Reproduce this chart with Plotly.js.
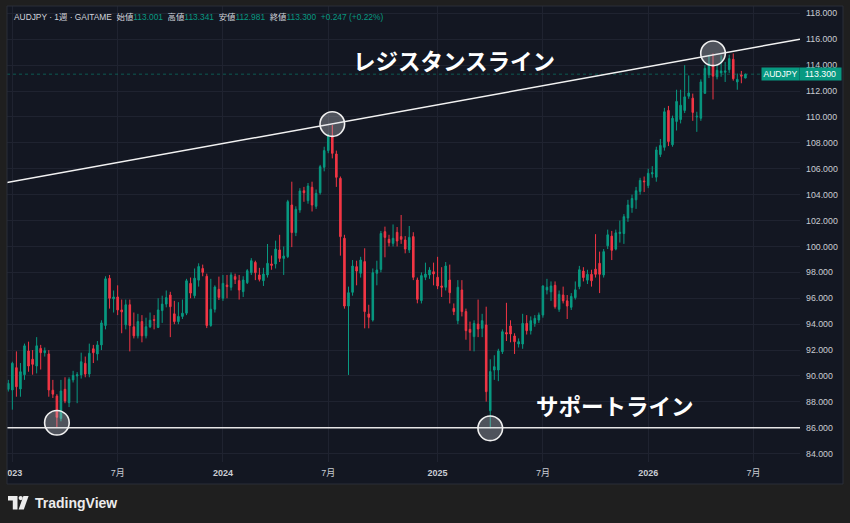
<!DOCTYPE html>
<html>
<head>
<meta charset="utf-8">
<script src="https://cdn.plot.ly/plotly-3.0.1.min.js"></script>
<style>
html,body{margin:0;padding:0;background:#1f1f1f;}
#chart{width:850px;height:523px;}
</style>
</head>
<body>
<div id="chart"></div>
<script>
// ---- data (weekly AUDJPY, GAITAME) ----
const firstWeek = '2022-12-26';
const weekCount = 183;
const open = [
88.97,88.92,90.64,89.0,90.1,91.93,91.29,90.77,92.13,91.8,
91.7,88.9,88.45,86.73,88.97,87.94,89.7,90.0,90.08,90.98,
90.15,92.1,91.7,92.4,93.9,97.54,95.95,96.1,95.1,93.95,
95.5,93.8,93.1,94.2,93.1,93.8,94.35,93.75,95.05,95.55,
96.25,94.8,94.2,94.6,94.85,97.15,96.2,97.4,98.3,97.7,
93.9,95.15,96.69,96.0,97.02,96.85,97.67,97.36,96.51,97.2,
97.98,98.77,97.8,97.36,97.8,98.65,98.65,99.73,99.08,99.21,
103.2,101.07,102.82,104.3,103.54,104.57,103.1,104.15,106.11,107.4,
108.48,107.14,105.26,100.63,95.4,96.46,98.44,97.93,98.83,94.79,
94.32,97.93,98.23,101.14,100.55,100.24,101.09,100.76,100.5,99.73,
100.76,97.41,95.82,97.62,97.8,98.05,97.62,96.95,96.85,97.41,
95.22,94.27,96.64,94.97,93.6,93.04,94.01,93.68,93.94,87.32,
90.46,90.46,91.88,93.35,93.86,93.09,92.47,92.47,94.06,93.5,
94.06,94.32,94.71,96.64,96.5,97.0,95.15,96.25,95.8,95.3,
96.05,96.9,98.1,97.4,97.85,98.25,98.7,97.8,100.05,100.8,
99.8,101.0,101.0,102.2,103.0,103.6,104.25,105.05,104.7,105.6,
105.35,107.1,107.65,110.5,107.85,109.65,109.8,110.5,111.6,111.45,
110.0,109.9,111.82,113.25,114.0,113.1,113.4,113.45,113.65,114.45,
112.7,113.25,113.001
];
const high = [
89.7,91.1,91.9,91.0,92.5,92.65,92.0,93.0,92.4,92.2,
92.0,89.7,88.6,89.7,89.9,89.9,90.4,90.3,91.8,91.5,
92.5,92.4,92.7,94.3,97.7,97.8,96.6,97.0,95.9,95.9,
95.9,94.9,94.8,94.7,94.5,94.9,94.7,96.0,96.2,96.6,
96.5,95.8,95.7,95.9,97.5,97.6,98.3,98.7,98.6,97.9,
97.5,97.0,97.67,97.8,97.8,98.0,97.9,97.8,97.7,98.25,
99.1,98.9,98.35,98.35,100.19,99.3,100.45,100.9,100.0,103.6,
105.0,103.1,104.5,104.6,104.9,105.0,104.4,106.3,107.7,108.7,
109.37,107.4,105.4,100.9,96.9,98.95,98.9,99.2,99.86,95.5,
98.3,98.9,101.2,101.53,100.9,101.7,101.5,102.43,100.8,101.58,
101.1,97.6,98.0,98.75,98.4,98.75,99.2,98.4,98.8,98.6,
95.6,97.4,97.4,95.2,94.2,94.3,95.9,94.8,95.35,91.29,
91.6,92.1,93.6,95.65,94.3,93.3,92.9,94.8,94.7,94.6,
94.7,94.9,97.0,97.5,97.3,97.3,96.6,96.9,96.25,96.4,
97.3,98.5,98.4,98.2,98.2,100.95,99.6,99.8,101.3,101.2,
101.3,102.0,102.5,103.6,104.0,104.6,105.3,105.4,106.0,106.2,
107.7,108.3,110.7,110.85,110.1,112.1,112.1,114.0,113.2,111.8,
110.4,112.9,114.0,114.8,114.9,114.0,114.75,114.25,114.8,114.9,
113.35,113.55,113.341
];
const low = [
88.8,87.4,88.4,88.4,89.7,90.33,90.1,90.2,90.5,91.5,
88.4,88.3,86.05,86.5,87.9,87.6,89.5,87.9,89.8,89.9,
89.9,91.0,91.2,92.0,93.6,95.2,94.9,94.7,93.3,93.6,
91.9,92.9,92.9,92.6,92.9,93.7,93.6,93.7,94.1,95.3,
93.0,94.0,94.0,94.4,94.7,96.0,96.0,96.9,97.7,93.7,
93.8,94.9,95.87,95.8,96.0,96.6,97.1,95.9,96.1,97.1,
97.8,97.4,97.3,96.95,97.6,98.2,98.3,98.8,97.8,99.1,
99.95,100.8,102.6,103.45,103.3,102.7,102.9,104.0,105.8,107.2,
106.8,104.6,99.29,95.2,90.08,96.2,97.0,97.6,93.68,93.68,
94.2,97.0,98.0,99.16,100.0,100.0,100.0,100.2,99.47,99.5,
97.4,95.61,95.6,97.4,97.5,97.0,96.7,96.1,96.6,95.6,
94.7,94.0,94.6,92.8,91.95,91.9,93.0,93.0,88.02,85.96,
89.7,89.6,91.7,92.7,92.6,91.7,92.2,92.1,93.2,93.2,
93.8,94.1,94.5,96.3,95.8,95.2,94.95,95.6,94.4,95.1,
95.9,96.7,97.3,97.1,96.9,97.6,96.4,97.6,99.8,98.95,
99.7,100.3,100.2,101.9,102.6,102.9,104.0,104.2,104.5,105.3,
105.0,106.9,107.4,107.75,107.7,108.95,109.5,110.3,111.4,109.7,
108.85,109.7,111.8,113.0,111.35,112.9,113.1,112.7,113.4,112.8,
112.1,112.6,112.981
];
const close = [
89.43,90.98,89.17,90.33,92.33,90.77,90.9,92.33,91.8,91.95,
88.92,88.6,86.81,88.84,88.07,89.74,90.05,90.1,91.1,90.15,
91.75,91.8,92.4,94.1,97.5,96.0,96.1,95.1,94.95,95.5,
93.9,93.1,94.2,93.1,93.8,94.3,94.3,95.1,95.55,96.05,
95.35,94.2,94.6,94.85,97.35,96.4,97.55,98.45,98.0,93.9,
95.15,96.87,96.07,97.15,96.9,97.8,97.46,96.64,97.41,98.13,
98.9,97.98,97.46,97.87,98.7,98.54,99.8,99.08,99.26,103.46,
101.07,102.87,104.28,104.15,104.67,103.2,104.1,106.16,107.4,108.53,
107.19,105.34,100.76,95.4,96.43,98.49,98.1,98.95,94.97,94.53,
97.98,98.18,101.0,100.7,100.29,100.63,100.42,100.55,99.8,100.7,
97.62,95.92,97.75,97.87,98.18,97.88,96.95,96.85,98.49,96.43,
94.97,96.85,94.97,93.5,93.37,94.06,93.63,94.27,88.79,90.34,
90.72,91.93,93.42,93.24,93.24,92.65,92.65,94.06,93.5,94.27,
94.45,94.71,96.95,96.85,96.95,95.35,96.3,95.8,95.4,96.15,
96.65,98.2,97.6,97.85,97.35,97.85,97.85,99.6,100.9,99.7,
101.05,101.1,102.3,103.2,103.7,104.3,105.1,105.0,105.65,105.7,
107.45,107.8,110.4,108.1,109.9,111.2,110.9,111.55,111.85,110.35,
110.05,112.7,113.75,114.1,113.15,113.6,113.55,113.55,114.5,112.95,
112.9,113.15,113.3
];
const priceTicks = [84,86,88,90,92,94,96,98,100,102,104,106,108,110,112,114,116,118];
const timeTickDates = ['2023-01-02','2023-07-03','2024-01-01','2024-07-01','2025-01-06','2025-07-07','2026-01-05','2026-07-06'];
const timeTickLabels = ['<b>2023</b>','7月','<b>2024</b>','7月','<b>2025</b>','7月','<b>2026</b>','7月'];
const resistanceDates = ['2022-12-23 18:00','2026-09-24 08:00'];
const resistancePrices = [104.93, 116.0];
const supportPrice = 86.0;
const touchDates = ['2023-03-20','2024-07-08','2025-04-07','2026-04-27'];
const touchPrices = [86.39, 109.45, 85.96, 114.91];
const lastPrice = 113.3;
const headerParts = [
  ['AUDJPY · 1週 · GAITAME', 'label'],
  ['始値', 'label'], ['113.001', 'value'],
  ['高値', 'label'], ['113.341', 'value'],
  ['安値', 'label'], ['112.981', 'value'],
  ['終値', 'label'], ['113.300', 'value'],
  ['+0.247 (+0.22%)', 'value']
];

// ---- build dates ----
const DAY = 864e5;
const baseMs = Date.parse(firstWeek + 'T00:00:00Z');
const dates = [];
for (let i = 0; i < weekCount; i++) dates.push(new Date(baseMs + i * 7 * DAY).toISOString().slice(0, 10));

// ---- pixel helpers (layout only) ----
const L = 7, R = 800, T = 6, B = 462;
const PX = x => (x - L) / (R - L);
const PY = y => (B - y) / (B - T);
const xRange = ['2022-12-23 18:04', '2026-09-24 08:38'];
const yRange = [83.36, 118.564];

const UP = '#089981', DOWN = '#F23645';
const FRAME = '#1f1f1f';
const PANE = '#131722';
const TXT = '#c9ccd3';

const candle = {
  type: 'candlestick',
  x: dates, open: open, high: high, low: low, close: close,
  increasing: {line: {color: UP, width: 1}, fillcolor: UP},
  decreasing: {line: {color: DOWN, width: 1}, fillcolor: DOWN},
  whiskerwidth: 0,
  hoverinfo: 'skip',
  showlegend: false
};

const shapes = [];
// price line (dotted)
shapes.push({type: 'line', xref: 'paper', yref: 'y', x0: 0, x1: PX(762), y0: lastPrice, y1: lastPrice,
  line: {color: 'rgba(8,153,129,0.5)', width: 1, dash: 'dot'}, layer: 'above'});
// support line
shapes.push({type: 'line', xref: 'paper', yref: 'y', x0: 0, x1: 1, y0: supportPrice, y1: supportPrice,
  line: {color: '#e6e6e6', width: 1.6}, layer: 'above'});
// resistance line
shapes.push({type: 'line', xref: 'x', yref: 'y', x0: resistanceDates[0], x1: resistanceDates[1],
  y0: resistancePrices[0], y1: resistancePrices[1], line: {color: '#f2f2f2', width: 1.5}, layer: 'above'});
// touch circles
touchDates.forEach((d, i) => {
  shapes.push({type: 'circle', xref: 'x', yref: 'y', xsizemode: 'pixel', ysizemode: 'pixel',
    xanchor: d, yanchor: touchPrices[i], x0: -12.3, x1: 12.3, y0: -12.3, y1: 12.3,
    fillcolor: 'rgba(220,222,228,0.3)', line: {color: '#f0f0f0', width: 1.6}, layer: 'above'});
});
// outer frame strips
const rectPx = (x0, y0, x1, y1, color) => ({type: 'rect', xref: 'paper', yref: 'paper',
  x0: PX(x0), x1: PX(x1), y0: PY(y0), y1: PY(y1), fillcolor: color, line: {width: 0}, layer: 'above'});
shapes.push(rectPx(0, 0, 7, 523, FRAME));
shapes.push(rectPx(0, 0, 850, 6, FRAME));
shapes.push(rectPx(843, 0, 850, 523, FRAME));
shapes.push(rectPx(0, 484, 850, 523, FRAME));
// pane border
shapes.push({type: 'rect', xref: 'paper', yref: 'paper', x0: PX(7), x1: PX(843), y0: PY(6), y1: PY(484),
  line: {color: '#2a2e39', width: 1}, fillcolor: 'rgba(0,0,0,0)', layer: 'above'});
// TradingView logo mark
const pathPx = pts => pts.map((p, i) => (i ? 'L' : 'M') + PX(p[0]).toFixed(5) + ',' + PY(p[1]).toFixed(5)).join(' ') + ' Z';
shapes.push({type: 'path', xref: 'paper', yref: 'paper', layer: 'above', fillcolor: '#ececec', line: {width: 0},
  path: pathPx([[8, 496], [17.5, 496], [17.5, 509.5], [12.8, 509.5], [12.8, 500.6], [8, 500.6]])});
shapes.push({type: 'circle', xref: 'paper', yref: 'paper', layer: 'above', fillcolor: '#ececec', line: {width: 0},
  x0: PX(18.6), x1: PX(22.8), y0: PY(496), y1: PY(500.2)});
shapes.push({type: 'path', xref: 'paper', yref: 'paper', layer: 'above', fillcolor: '#ececec', line: {width: 0},
  path: pathPx([[23.4, 496], [28.6, 496], [23.8, 509.5], [18.6, 509.5]])});

// header rich text
const NB = '\u00a0';
let header = '';
headerParts.forEach((p, i) => {
  const col = p[1] === 'value' ? UP : '#d1d4dc';
  const sep = (i > 0 && p[1] === 'label') || i === headerParts.length - 1 ? NB + NB : '';
  header += sep + '<span style="color:' + col + '">' + p[0] + '</span>';
});

const annotations = [
  {xref: 'paper', yref: 'paper', x: PX(12), y: PY(17), xanchor: 'left', yanchor: 'middle', showarrow: false,
   text: header, font: {family: 'Liberation Sans, Noto Sans CJK JP', size: 8.4, color: '#d1d4dc'}},
  {xref: 'paper', yref: 'paper', x: PX(454), y: PY(60), xanchor: 'center', yanchor: 'middle', showarrow: false,
   text: 'レジスタンスライン', font: {family: 'Noto Sans CJK JP', size: 22.5, color: '#ffffff', weight: 700}},
  {xref: 'paper', yref: 'paper', x: PX(615), y: PY(405), xanchor: 'center', yanchor: 'middle', showarrow: false,
   text: 'サポートライン', font: {family: 'Noto Sans CJK JP', size: 22.5, color: '#ffffff', weight: 700}},
  {xref: 'paper', yref: 'y', x: PX(780.8), y: lastPrice, xanchor: 'center', yanchor: 'middle', showarrow: false,
   text: 'AUDJPY', bgcolor: UP, width: 35, height: 10, borderpad: 1,
   font: {family: 'Liberation Sans', size: 8.6, color: '#ffffff'}},
  {xref: 'paper', yref: 'y', x: PX(820.5), y: lastPrice, xanchor: 'center', yanchor: 'middle', showarrow: false,
   text: lastPrice.toFixed(3), bgcolor: UP, width: 39, height: 10, borderpad: 1,
   font: {family: 'Liberation Sans', size: 8.8, color: '#ffffff'}},
  {xref: 'paper', yref: 'paper', x: PX(33), y: PY(502.5), xanchor: 'left', yanchor: 'middle', showarrow: false,
   text: 'TradingView', font: {family: 'Liberation Sans', size: 14, color: '#ececec', weight: 600}}
];

const layout = {
  width: 850, height: 523,
  margin: {l: L, r: 850 - R, t: T, b: 523 - B, pad: 0},
  paper_bgcolor: PANE, plot_bgcolor: PANE,
  showlegend: false,
  boxgap: 0.45,
  dragmode: false,
  xaxis: {
    type: 'date', range: xRange, rangeslider: {visible: false},
    tickmode: 'array', tickvals: timeTickDates, ticktext: timeTickLabels,
    showgrid: true, gridcolor: '#1f2330', gridwidth: 1,
    zeroline: false, showline: false, ticks: '', ticklabelstandoff: 4,
    tickfont: {family: 'Liberation Sans, Noto Sans CJK JP', size: 9, color: TXT},
    fixedrange: true
  },
  yaxis: {
    side: 'right', range: yRange,
    tickmode: 'array', tickvals: priceTicks, ticktext: priceTicks.map(v => v.toFixed(3)),
    showgrid: true, gridcolor: '#1f2330', gridwidth: 1,
    zeroline: false, showline: false, ticks: '', ticklabelstandoff: 5,
    tickfont: {family: 'Liberation Sans', size: 8.8, color: TXT},
    fixedrange: true
  },
  shapes: shapes,
  annotations: annotations
};

Plotly.newPlot('chart', [candle], layout, {staticPlot: true, displayModeBar: false});
</script>
</body>
</html>
